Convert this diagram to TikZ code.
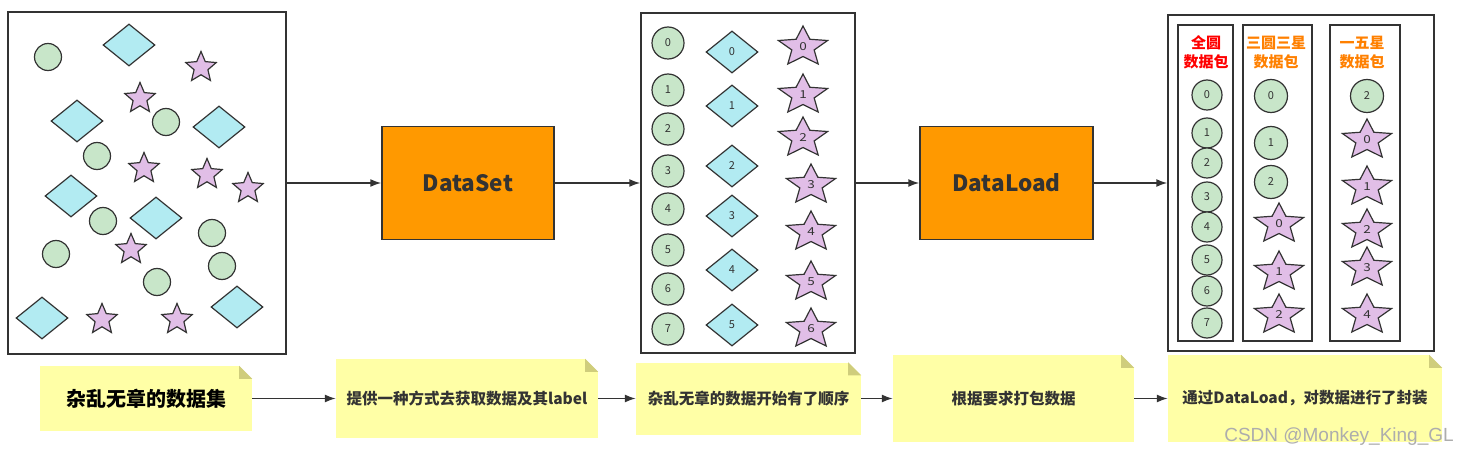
\documentclass[tikz,border=0pt]{standalone}
\usepackage{fontspec}
\setmainfont{Noto Sans CJK SC}
\newfontfamily\markfont{Liberation Sans}
\usepackage{tikz}
\usetikzlibrary{shapes.geometric,arrows.meta,calc}

\definecolor{ink}{HTML}{333333}
\definecolor{dotgreen}{HTML}{C8E6C9}
\definecolor{gemcyan}{HTML}{B2EBF2}
\definecolor{starpink}{HTML}{E1BEE7}
\definecolor{boxorange}{HTML}{FF9900}
\definecolor{notefill}{HTML}{FFFFA6}
\definecolor{notefold}{HTML}{CFCD7C}
\definecolor{titleorange}{HTML}{FF8000}

\begin{document}
\begin{tikzpicture}[x=1pt, y=-1pt,
	frame/.style={draw=ink, line width=1.5pt, inner sep=0pt},
	stage/.style={draw=ink, line width=1.5pt, fill=boxorange, text=ink, minimum height=113pt, font=\fontsize{22.5}{27}\selectfont\bfseries},
	dot/.style={circle, draw=ink, fill=dotgreen, line width=1.2pt, inner sep=0pt, text=ink, font=\fontsize{11}{11}\selectfont},
	gem/.style={diamond, draw=ink, fill=gemcyan, line width=1.2pt, inner sep=0pt, minimum width=52pt, minimum height=42pt, text=ink, font=\fontsize{11}{11}\selectfont},
	spark/.style={star, star points=5, star point ratio=2.2, draw=ink, fill=starpink, line width=1.2pt, inner sep=0pt, minimum size=32pt, text=ink, font=\fontsize{11}{11}\selectfont},
	widespark/.style={spark, minimum size=42pt, xscale=1.23, transform shape},
	note/.style={fill=notefill, inner sep=0pt, align=center, text=ink, font=\fontsize{15.5}{19}\selectfont\bfseries},
	packtitle/.style={align=center, font=\fontsize{15}{19}\selectfont\bfseries},
	flow/.style={-{Latex[length=11pt,width=8pt]}, draw=ink, line width=1.5pt}]
	\fill[white] (0,0) rectangle (1464,457);
	\useasboundingbox (0,0) rectangle (1464,457);

	% raw data
	\node[frame, minimum width=278pt, minimum height=342pt] (raw) at (147,183) {};
	\node[dot, minimum size=27pt] (rc1) at (48,57) {};
	\node[dot, minimum size=27pt] (rc2) at (166,122) {};
	\node[dot, minimum size=27pt] (rc3) at (97,156) {};
	\node[dot, minimum size=27pt] (rc4) at (103,221) {};
	\node[dot, minimum size=27pt] (rc5) at (56,254) {};
	\node[dot, minimum size=27pt] (rc6) at (212,233) {};
	\node[dot, minimum size=27pt] (rc7) at (222,266) {};
	\node[dot, minimum size=27pt] (rc8) at (157,282) {};
	\node[gem] (rd1) at (129,45) {};
	\node[gem] (rd2) at (77,121) {};
	\node[gem] (rd3) at (219,127) {};
	\node[gem] (rd4) at (71,196) {};
	\node[gem] (rd5) at (156,218) {};
	\node[gem] (rd6) at (42,318) {};
	\node[gem] (rd7) at (237,307) {};
	\node[spark] (rs1) at (201,67.5) {};
	\node[spark] (rs2) at (140,98.5) {};
	\node[spark] (rs3) at (144,168.5) {};
	\node[spark] (rs4) at (207,174.5) {};
	\node[spark] (rs5) at (248,188.5) {};
	\node[spark] (rs6) at (131,249.5) {};
	\node[spark] (rs7) at (102,319.5) {};
	\node[spark] (rs8) at (177,319.5) {};

	\node[stage, minimum width=172pt] (dataset) at (468,183) {DataSet};

	% ordered data
	\node[frame, minimum width=214pt, minimum height=340pt] (ordered) at (748,183) {};
	\node[dot, minimum size=32pt] (oc0) at (668,43) {0};
	\node[dot, minimum size=32pt] (oc1) at (668,90) {1};
	\node[dot, minimum size=32pt] (oc2) at (668,129) {2};
	\node[dot, minimum size=32pt] (oc3) at (668,171) {3};
	\node[dot, minimum size=32pt] (oc4) at (668,209) {4};
	\node[dot, minimum size=32pt] (oc5) at (668,250) {5};
	\node[dot, minimum size=32pt] (oc6) at (668,289) {6};
	\node[dot, minimum size=32pt] (oc7) at (668,329) {7};
	\node[gem] (od0) at (732,52) {0};
	\node[gem] (od1) at (732,106) {1};
	\node[gem] (od2) at (732,166) {2};
	\node[gem] (od3) at (732,216) {3};
	\node[gem] (od4) at (732,270) {4};
	\node[gem] (od5) at (732,325) {5};
	\node[widespark] (os0) at (803,47) {0};
	\node[widespark] (os1) at (803,95) {1};
	\node[widespark] (os2) at (803,138) {2};
	\node[widespark] (os3) at (811,185) {3};
	\node[widespark] (os4) at (811,232) {4};
	\node[widespark] (os5) at (811,282) {5};
	\node[widespark] (os6) at (811,329) {6};

	\node[stage, minimum width=173pt] (dataload) at (1006.5,183) {DataLoad};

	% packed batches
	\node[frame, minimum width=266pt, minimum height=336pt] (packed) at (1301,183) {};
	\node[frame, minimum width=55pt, minimum height=316pt] (col1) at (1205.5,183) {};
	\node[frame, minimum width=69pt, minimum height=316pt] (col2) at (1277.5,183) {};
	\node[frame, minimum width=70pt, minimum height=316pt] (col3) at (1365,183) {};
	\node[packtitle, text=red] (t1) at (1206,52.5) {全圆\\数据包};
	\node[packtitle, text=titleorange] (t2) at (1276,52.5) {三圆三星\\数据包};
	\node[packtitle, text=titleorange] (t3) at (1362,52.5) {一五星\\数据包};
	\node[dot, minimum size=30pt] (p1c0) at (1207,95) {0};
	\node[dot, minimum size=30pt] (p1c1) at (1207,133) {1};
	\node[dot, minimum size=30pt] (p1c2) at (1207,163) {2};
	\node[dot, minimum size=30pt] (p1c3) at (1207,197) {3};
	\node[dot, minimum size=30pt] (p1c4) at (1207,227) {4};
	\node[dot, minimum size=30pt] (p1c5) at (1207,260) {5};
	\node[dot, minimum size=30pt] (p1c6) at (1207,291) {6};
	\node[dot, minimum size=30pt] (p1c7) at (1207,323) {7};
	\node[dot, minimum size=33pt] (p2c0) at (1271,96) {0};
	\node[dot, minimum size=33pt] (p2c1) at (1271,143) {1};
	\node[dot, minimum size=33pt] (p2c2) at (1271,182) {2};
	\node[widespark] (p2s0) at (1279,224) {0};
	\node[widespark] (p2s1) at (1279,272) {1};
	\node[widespark] (p2s2) at (1279,315) {2};
	\node[dot, minimum size=33pt] (p3c2) at (1367,96) {2};
	\node[widespark] (p3s0) at (1367,140) {0};
	\node[widespark] (p3s1) at (1367,187) {1};
	\node[widespark] (p3s2) at (1367,230) {2};
	\node[widespark] (p3s3) at (1367,268) {3};
	\node[widespark] (p3s4) at (1367,315) {4};

	\draw[flow] (raw) -- (dataset);
	\draw[flow] (dataset) -- (ordered);
	\draw[flow] (ordered) -- (dataload);
	\draw[flow] (dataload) -- (packed);

	% notes
	\node[note, minimum width=212pt, minimum height=65pt, text=black, font=\fontsize{20}{24}\selectfont\bfseries] (n1) at (146,398.5) {杂乱无章的数据集};
	\node[note, minimum width=262pt, minimum height=79pt] (n2) at (467,398.5) {提供一种方式去获取数据及其label};
	\node[note, minimum width=225pt, minimum height=72pt] (n3) at (748.5,398.5) {杂乱无章的数据开始有了顺序};
	\node[note, minimum width=241pt, minimum height=87pt] (n4) at (1013.5,398.5) {根据要求打包数据};
	\node[note, minimum width=274pt, minimum height=87pt] (n5) at (1305,398.5) {通过DataLoad，对数据进行了封装};
	\foreach \n in {n1,n2,n3,n4,n5} {
		\fill[white] (\n.north east) -- ($(\n.north east)+(-13,0)$) -- ($(\n.north east)+(0,13)$) -- cycle;
		\fill[notefold] ($(\n.north east)+(-13,0)$) -- ($(\n.north east)+(-13,13)$) -- ($(\n.north east)+(0,13)$) -- cycle;
	}

	\draw[flow] (n1) -- (n2);
	\draw[flow] (n2) -- (n3);
	\draw[flow] (n3) -- (n4);
	\draw[flow] (n4) -- (n5);

	\node[text=black!32, font=\markfont\fontsize{19}{22}\selectfont] (wm) at (1339,437) {CSDN @Monkey\_King\_GL};
\end{tikzpicture}
\end{document}
